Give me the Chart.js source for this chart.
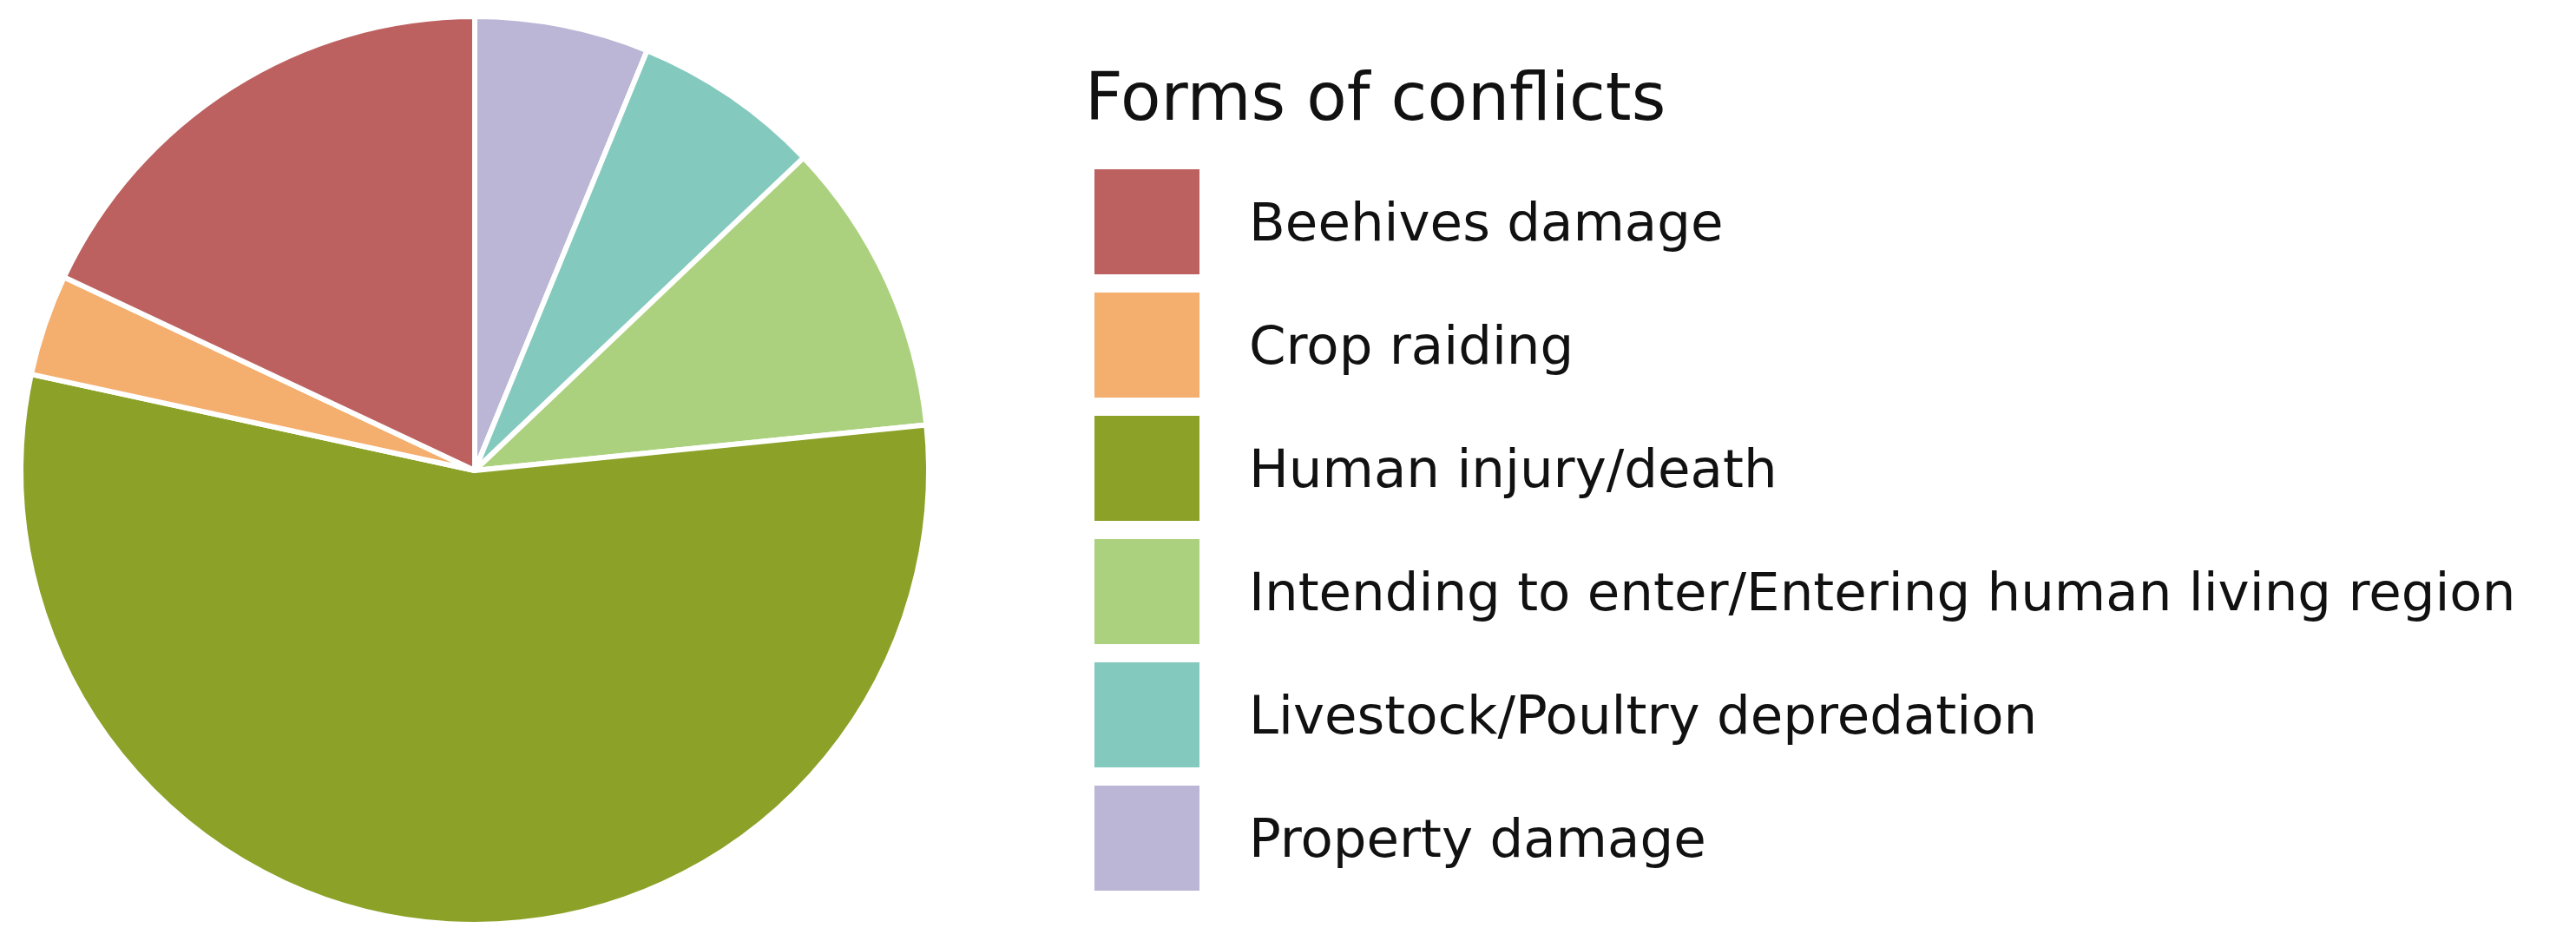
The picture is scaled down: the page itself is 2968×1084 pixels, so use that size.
<!DOCTYPE html>
<html>
<head>
<meta charset="utf-8">
<script src="https://cdn.jsdelivr.net/npm/chart.js@4.4.1/dist/chart.umd.min.js"></script>
<style>
  body { margin: 0; background: #fff; width: 2968px; height: 1084px; overflow: hidden; font-family: "DejaVu Sans", Verdana, sans-serif; }
  #pieWrap { position: absolute; left: 0; top: 0; width: 1094px; height: 1084px; }
  #legend { position: absolute; left: 1250px; top: 62px; color: #111; }
  #legend .title { font-size: 76px; line-height: 100px; margin-bottom: 22px; }
  #legend .item { display: flex; align-items: center; height: 142px; }
  #legend .box { width: 121px; height: 121px; margin-left: 11px; margin-right: 57px; }
  #legend .label { font-size: 61px; }
</style>
</head>
<body>
<div id="pieWrap"><canvas id="pieChart"></canvas></div>
<div id="legend"></div>
<script>
// legend order (ggplot draws these counter-clockwise from the top)
const categories = [
  "Beehives damage",
  "Crop raiding",
  "Human injury/death",
  "Intending to enter/Entering human living region",
  "Livestock/Poultry depredation",
  "Property damage",
];
const values = [18.0, 3.6, 55.0, 10.5, 6.7, 6.2];
const colors = ["#bc6160", "#f4ae6e", "#8ca128", "#acd17e", "#83c9be", "#bbb5d6"];

// legend
const legend = document.getElementById("legend");
legend.innerHTML = '<div class="title">Forms of conflicts</div>';
categories.forEach((c, i) => {
  legend.innerHTML += `<div class="item"><div class="box" style="background:${colors[i]}"></div><div class="label">${c}</div></div>`;
});

// Chart.js goes clockwise, so reverse to get the counter-clockwise look
const ctx = document.getElementById("pieChart").getContext("2d");
new Chart(ctx, {
  type: "pie",
  data: {
    labels: categories.slice().reverse(),
    datasets: [
      {
        data: values.slice().reverse(),
        backgroundColor: colors.slice().reverse(),
        borderColor: "#ffffff",
        borderWidth: 6,
      },
    ],
  },
  options: {
    responsive: true,
    maintainAspectRatio: false,
    animation: false,
    layout: { padding: 16 },
    plugins: {
      legend: { display: false },
      tooltip: { enabled: false },
    },
  },
});
</script>
</body>
</html>
